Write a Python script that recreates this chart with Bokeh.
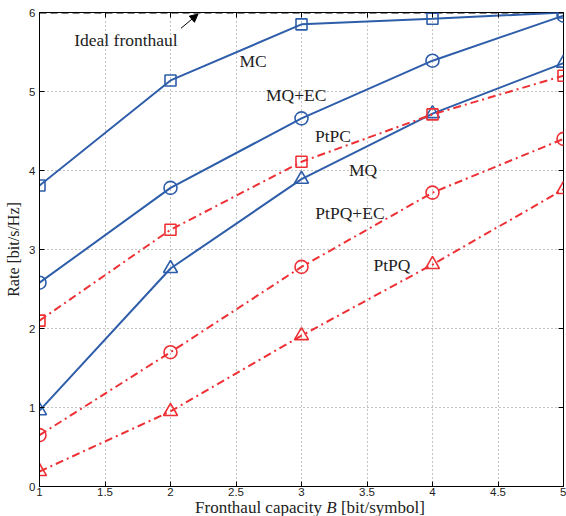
from bokeh.plotting import figure
from bokeh.models import Label, Arrow, NormalHead, Range1d, FixedTicker, LinearAxis, Div
from bokeh.layouts import column
from bokeh.embed import file_html
from bokeh.resources import INLINE

B = [1, 2, 3, 4, 5]
mc = [3.81, 5.14, 5.85, 5.92, 6.0]
mq_ec = [2.58, 3.78, 4.66, 5.39, 5.96]
mq = [0.96, 2.76, 3.89, 4.72, 5.36]
ptpc = [2.10, 3.25, 4.11, 4.71, 5.20]
ptpq_ec = [0.65, 1.70, 2.78, 3.72, 4.40]
ptpq = [0.19, 0.95, 1.91, 2.81, 3.76]
ideal = 6.0

x_ticks = [1, 1.5, 2, 2.5, 3, 3.5, 4, 4.5, 5]
y_ticks = [0, 1, 2, 3, 4, 5, 6]

BLUE = "#2E5DAA"
RED = "#EE3035"
SERIF = "Liberation Serif"
SANS = "Liberation Sans"

p = figure(width=566, height=499, output_backend="svg", toolbar_location=None,
           x_range=Range1d(1, 5), y_range=Range1d(0, 6),
           min_border_left=39, min_border_right=3, min_border_top=12, min_border_bottom=13)
p.outline_line_color = "black"
p.outline_line_width = 1
p.background_fill_color = "white"

for ax in (p.xaxis[0], p.yaxis[0]):
    ax.major_tick_in = 5
    ax.major_tick_out = 0
    ax.minor_tick_in = 0
    ax.minor_tick_out = 0
    ax.axis_line_color = "black"
    ax.major_tick_line_color = "black"
    ax.major_label_text_font = SANS
    ax.major_label_text_font_size = "11.5px"
    ax.major_label_text_color = "#222222"
    ax.major_label_standoff = 1

p.xaxis.ticker = FixedTicker(ticks=x_ticks)
p.yaxis.ticker = FixedTicker(ticks=y_ticks)
p.xaxis.major_label_overrides = {1: "1", 2: "2", 3: "3", 4: "4", 5: "5"}
p.yaxis.major_label_standoff = 4

p.yaxis.axis_label = "Rate [bit/s/Hz]"
p.yaxis.axis_label_text_font = SERIF
p.yaxis.axis_label_text_font_style = "normal"
p.yaxis.axis_label_text_font_size = "16px"
p.yaxis.axis_label_standoff = 4
p.yaxis.axis_label_text_color = "#222222"

# ticks on the right and top sides (no labels)
for side, ticks in (("right", y_ticks), ("above", x_ticks)):
    a = LinearAxis(ticker=FixedTicker(ticks=ticks),
                   major_label_overrides={t: "" for t in ticks},
                   major_tick_in=5, major_tick_out=0, minor_tick_in=0, minor_tick_out=0,
                   major_label_standoff=0, axis_line_color=None)
    p.add_layout(a, side)

for g in (p.xgrid[0], p.ygrid[0]):
    g.grid_line_color = "#888888"
    g.grid_line_dash = "1 3"
    g.grid_line_width = 1
p.xgrid.ticker = FixedTicker(ticks=x_ticks)
p.ygrid.ticker = FixedTicker(ticks=y_ticks)

# ideal fronthaul
p.line([B[0], B[-1]], [ideal, ideal], line_color="black", line_width=2.2, line_dash="7 4")

DASHDOT = "8 4 2 4"
series = [
    (mc, BLUE, "solid", "square"),
    (mq_ec, BLUE, "solid", "circle"),
    (mq, BLUE, "solid", "triangle"),
    (ptpc, RED, DASHDOT, "square"),
    (ptpq_ec, RED, DASHDOT, "circle"),
    (ptpq, RED, DASHDOT, "triangle"),
]
for ys, col, dash, mk in series:
    p.line(B, ys, line_color=col, line_width=2, line_dash=dash)
    size = {"square": 11, "circle": 13, "triangle": 14}[mk]
    p.scatter(B, ys, marker=mk, size=size, fill_color=None, line_color=col, line_width=1.6)

def lab(x, y, t):
    p.add_layout(Label(x=x, y=y, text=t, text_font=SERIF, text_font_size="17.5px",
                       text_color="#222222", text_align="center",
                       text_baseline="middle"))

lab(1.66, 5.65, "Ideal fronthaul")
lab(2.63, 5.39, "MC")
lab(2.96, 4.95, "MQ+EC")
lab(3.24, 4.44, "PtPC")
lab(3.47, 4.01, "MQ")
lab(3.37, 3.46, "PtPQ+EC")
lab(3.69, 2.81, "PtPQ")

p.add_layout(Arrow(end=NormalHead(size=8, fill_color="black", line_color="black"),
                   x_start=2.08, y_start=5.80, x_end=2.21, y_end=5.98,
                   line_color="black", line_width=1))

xlabel = Div(text="Fronthaul capacity <i>B</i> [bit/symbol]", width=566, height=17,
             margin=(0, 0, 0, 0),
             styles={"font-family": SERIF, "font-size": "17px", "line-height": "17px",
                     "text-align": "center", "padding-left": "54px", "color": "#222222",
                     "box-sizing": "border-box", "white-space": "nowrap",
                     "overflow": "visible"})

layout = column(p, xlabel, spacing=0)
open("out.html", "w").write(file_html(layout, INLINE))
